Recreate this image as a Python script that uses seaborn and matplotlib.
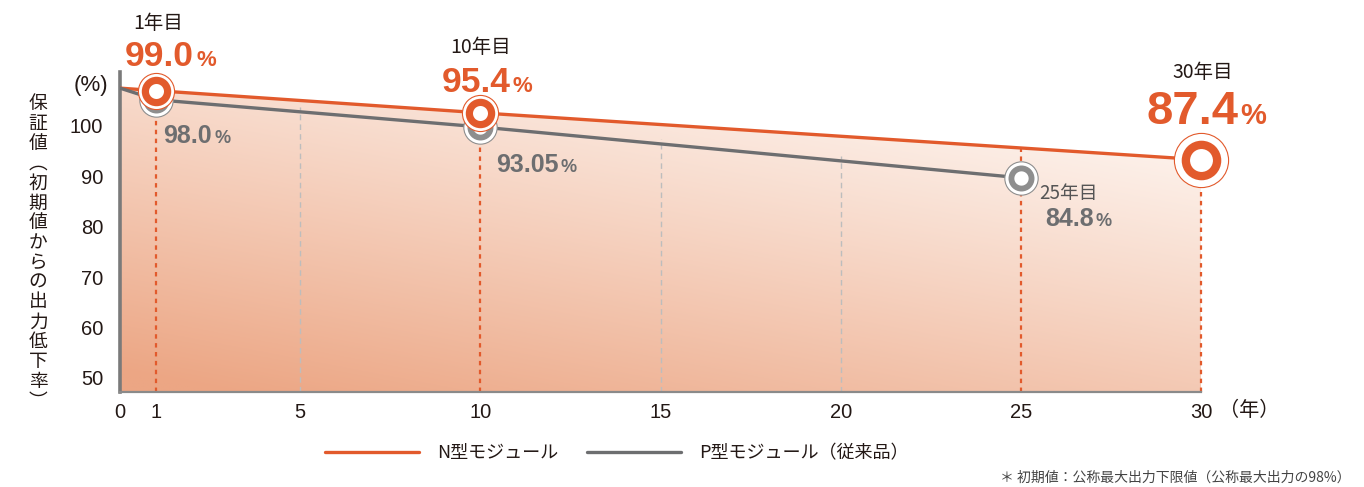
import numpy as np
import pandas as pd
import seaborn as sns
import matplotlib
matplotlib.use("Agg")
import matplotlib.pyplot as plt
from matplotlib.patches import Polygon

# heights of the two lines (in the chart's axis units)
years_n = [0, 1, 10, 30]
height_n = [107.5, 107.0, 102.6, 93.3]
years_p = [0, 1, 10, 25]
height_p = [107.5, 105.2, 99.8, 89.7]

module_names = ["N型モジュール", "P型モジュール（従来品）"]
xticks = [0, 1, 5, 10, 15, 20, 25, 30]
yticks = [50, 60, 70, 80, 90, 100]

# labelled points: year, caption, guaranteed value
n_marks = [(1, "1年目", "99.0"), (10, "10年目", "95.4"), (30, "30年目", "87.4")]
p_marks = [(1, "", "98.0"), (10, "", "93.05"), (25, "25年目", "84.8")]

ylabel_chars = "保証値︵初期値からの出力低下率︶"
footnote = "＊ 初期値：公称最大出力下限値（公称最大出力の98%）"

ORANGE = "#e25a2c"
GRAY = "#6d6e70"
GRAY_MARK = "#8e8e8e"
DARK = "#231815"
NUM_FONT = "Liberation Sans"

YMIN, YMAX = 47.2, 110.7

sns.set_style("white")
plt.rcParams["font.family"] = ["Noto Sans CJK JP", "DejaVu Sans"]

fig = plt.figure(figsize=(13.64, 4.87), dpi=100)
ax = fig.add_axes([120 / 1364, 1 - 392 / 487, 1081 / 1364, 320 / 487])

df = pd.concat([
    pd.DataFrame({"year": years_n, "value": height_n, "module": module_names[0]}),
    pd.DataFrame({"year": years_p, "value": height_p, "module": module_names[1]}),
])
sns.lineplot(data=df, x="year", y="value", hue="module",
             palette=[ORANGE, GRAY], linewidth=2.4, ax=ax, zorder=3,
             legend=True)
handles, labels = ax.get_legend_handles_labels()
ax.get_legend().remove()

ax.set_xlim(0, 30)
ax.set_ylim(YMIN, YMAX)

# gradient fill under the N line
gx = np.linspace(0, 1, 300)
gy = np.linspace(0, 1, 200)
xx, yy = np.meshgrid(gx, gy)
f = np.clip(0.62 * (1 - yy) + 0.42 * (1 - xx), 0, 1) ** 1.1
light = np.array([255, 251, 248]) / 255
dark = np.array([236, 166, 132]) / 255
img = light + (dark - light) * f[..., None]
top = max(height_n)
im = ax.imshow(img, extent=[0, 30, YMIN, top], origin="lower",
               aspect="auto", zorder=0)
clip = Polygon(list(zip(years_n, height_n)) + [(30, YMIN), (0, YMIN)],
               closed=True, transform=ax.transData, facecolor="none",
               edgecolor="none")
ax.add_patch(clip)
im.set_clip_path(clip)

# guide lines
for x in [5, 15, 20]:
    ax.vlines(x, YMIN, np.interp(x, years_p, height_p) + 1, color="#bdbdbd",
              linestyle=(0, (4, 3)), linewidth=1, zorder=1)
for x in [1, 10, 25, 30]:
    ax.vlines(x, YMIN, np.interp(x, years_n, height_n), color=ORANGE,
              linestyle=(0, (2, 2)), linewidth=1.6, zorder=1, clip_on=False)


def ring(x, y, color, ms, mew, halo, z):
    ax.plot([x], [y], "o", ms=halo, mfc="white", mec=color, mew=0.8,
            zorder=z, clip_on=False)
    ax.plot([x], [y], "o", ms=ms, mfc="white", mec=color, mew=mew,
            zorder=z + 0.5, clip_on=False)


for yr, cap, val in p_marks:
    ring(yr, np.interp(yr, years_p, height_p), GRAY_MARK, 14.5, 4.2, 24, 4)
for yr, cap, val in n_marks:
    if yr == 30:
        ring(yr, np.interp(yr, years_n, height_n), ORANGE, 22.5, 6, 39, 6)
    else:
        ring(yr, np.interp(yr, years_n, height_n), ORANGE, 16, 5.2, 26, 6)


def value_label(x, y, text, dx, dy, color, size, psize):
    kw = dict(xy=(x, y), textcoords="offset pixels", va="baseline",
              color=color, fontweight="bold", family=NUM_FONT,
              annotation_clip=False, zorder=8)
    ax.annotate(text, xytext=(dx, dy), ha="right", fontsize=size, **kw)
    ax.annotate("%", xytext=(dx + 2, dy), ha="left", fontsize=psize, **kw)


# N labels: offsets in pixels from the point
n_off = {1: (2, 62, 38, 25, 25.5, 16),
         10: (0, 60, 30, 21, 25.5, 16),
         30: (2, 82, 37, 36, 34, 21)}
for yr, cap, val in n_marks:
    y = np.interp(yr, years_n, height_n)
    cx, cy, vx, vy, vs, ps = n_off[yr]
    ax.annotate(cap, xy=(yr, y), xytext=(cx, cy), textcoords="offset pixels",
                ha="center", va="baseline", fontsize=14, color=DARK,
                annotation_clip=False, zorder=8)
    value_label(yr, y, val, vx, vy, ORANGE, vs, ps)

p_off = {1: (56, -43), 10: (78, -45), 25: (73, -48)}
for yr, cap, val in p_marks:
    y = np.interp(yr, years_p, height_p)
    vx, vy = p_off[yr]
    if cap:
        ax.annotate(cap, xy=(yr, y), xytext=(18, -21),
                    textcoords="offset pixels", ha="left", va="baseline",
                    fontsize=13.5, color="#555555", zorder=8)
    value_label(yr, y, val, vx, vy, GRAY, 18, 13)

# axes styling
ax.set_xticks(xticks)
ax.set_xticklabels([str(v) for v in xticks], family=NUM_FONT, fontsize=14.5,
                   color=DARK)
ax.set_yticks(yticks)
ax.set_yticklabels([str(v) for v in yticks], family=NUM_FONT, fontsize=14.5,
                   color=DARK)
ax.tick_params(length=0, pad=8)
ax.tick_params(axis="y", pad=12)
ax.set_xlabel("")
ax.set_ylabel("")
sns.despine(ax=ax)
ax.spines["left"].set_color("#7a7a7a")
ax.spines["left"].set_linewidth(2.6)
ax.spines["bottom"].set_color("#8a8a8a")
ax.spines["bottom"].set_linewidth(1.6)
ax.spines["left"].set_bounds(YMIN, YMAX)

ax.annotate("(%)", xy=(0, 108), xytext=(-12, 0), textcoords="offset pixels",
            ha="right", va="center", fontsize=16, family=NUM_FONT, color=DARK,
            annotation_clip=False)
ax.annotate("（年）", xy=(30, YMIN), xytext=(18, -18),
            textcoords="offset pixels", ha="left", va="center", fontsize=14.5,
            color=DARK, annotation_clip=False)

# vertical y label, one character at a time
for i, ch in enumerate(ylabel_chars):
    fig.text(38 / 1364, 1 - (104 + i * 19.8) / 487, ch, ha="center",
             va="center", fontsize=13.5, color=DARK)

fig.legend(handles, labels, loc="center", bbox_to_anchor=(617 / 1364, 1 - 453 / 487),
           ncol=2, frameon=False, handlelength=5.2, columnspacing=1.6,
           handletextpad=1.0, fontsize=13, labelcolor=DARK)

fig.text(1350 / 1364, 1 - 478 / 487, footnote, ha="right", va="center",
         fontsize=10, color="#444444")

fig.savefig("out.png", dpi=100, facecolor="white")
